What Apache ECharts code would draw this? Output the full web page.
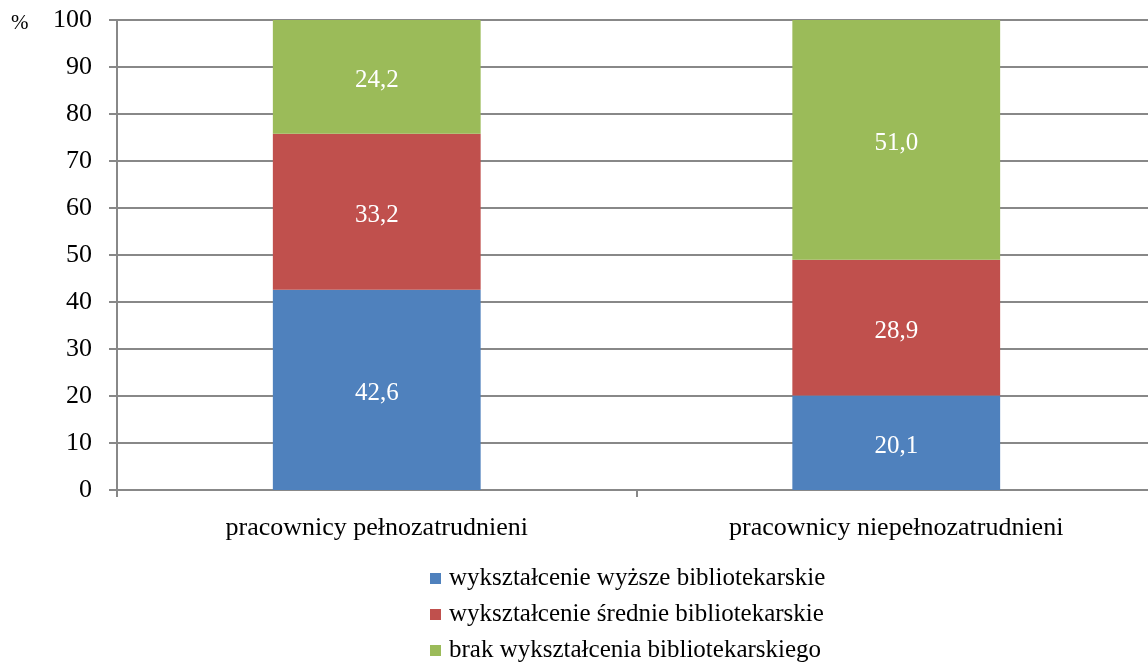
<!DOCTYPE html>
<html>
<head>
<meta charset="utf-8">
<script src="https://cdn.jsdelivr.net/npm/echarts@6/dist/echarts.min.js"></script>
<style>
    html, body { margin: 0; padding: 0; background: #fff; }
    #chart { width: 1148px; height: 663px; }
</style>
</head>
<body>
<div id="chart"></div>
<script>
    // dane
    var categories = ['pracownicy pełnozatrudnieni', 'pracownicy niepełnozatrudnieni'];
    var seriesNames = ['wykształcenie wyższe bibliotekarskie', 'wykształcenie średnie bibliotekarskie', 'brak wykształcenia bibliotekarskiego'];
    var wyzsze = [42.6, 20.1];
    var srednie = [33.2, 28.9];
    var brak = [24.2, 51.0];
    var colors = ['#4F81BD', '#C0504D', '#9BBB59'];

    var chart = echarts.init(document.getElementById('chart'));
    var font = '"Liberation Serif", "Times New Roman", serif';

    function makeSeries(name, data, color) {
        return {
            name: name,
            type: 'bar',
            stack: 'all',
            data: data,
            barWidth: '40%',
            itemStyle: { color: color },
            label: {
                show: true,
                position: 'inside',
                offset: [0, 4],
                color: '#fff',
                fontFamily: font,
                fontSize: 25,
                formatter: function (p) { return p.value.toFixed(1).replace('.', ','); }
            }
        };
    }

    var option = {
        animation: false,
        textStyle: { fontFamily: font },
        // prawa krawędź siatki wychodzi poza obraz (jak w oryginale)
        grid: { left: 117, width: 1039, top: 20, bottom: 173, outerBoundsMode: 'none', containLabel: false },
        graphic: [{
            type: 'text', left: 11, top: 13,
            style: { text: '%', font: '21px ' + font, fill: '#000' }
        }],
        legend: {
            orient: 'vertical',
            left: 430,
            top: 566,
            padding: 0,
            itemWidth: 11,
            itemHeight: 11,
            itemGap: 11,
            icon: 'rect',
            textStyle: { fontFamily: font, fontSize: 25, color: '#000', padding: [0, 0, 0, 3] },
            data: seriesNames
        },
        xAxis: {
            type: 'category',
            data: categories,
            axisLine: { lineStyle: { color: '#888', width: 2 } },
            axisTick: { show: true, length: 7, lineStyle: { color: '#888', width: 2 } },
            axisLabel: { color: '#000', fontSize: 26, fontFamily: font, margin: 25 }
        },
        yAxis: {
            type: 'value',
            min: 0, max: 100, interval: 10,
            axisLine: { show: true, lineStyle: { color: '#888', width: 2 } },
            axisTick: { show: true, length: 8, lineStyle: { color: '#888', width: 2 } },
            axisLabel: { color: '#000', fontSize: 26, fontFamily: font, margin: 25, padding: [6, 0, 0, 0] },
            splitLine: { lineStyle: { color: '#888', width: 2 } }
        },
        series: [
            makeSeries(seriesNames[0], wyzsze, colors[0]),
            makeSeries(seriesNames[1], srednie, colors[1]),
            makeSeries(seriesNames[2], brak, colors[2])
        ]
    };
    chart.setOption(option);
</script>
</body>
</html>
